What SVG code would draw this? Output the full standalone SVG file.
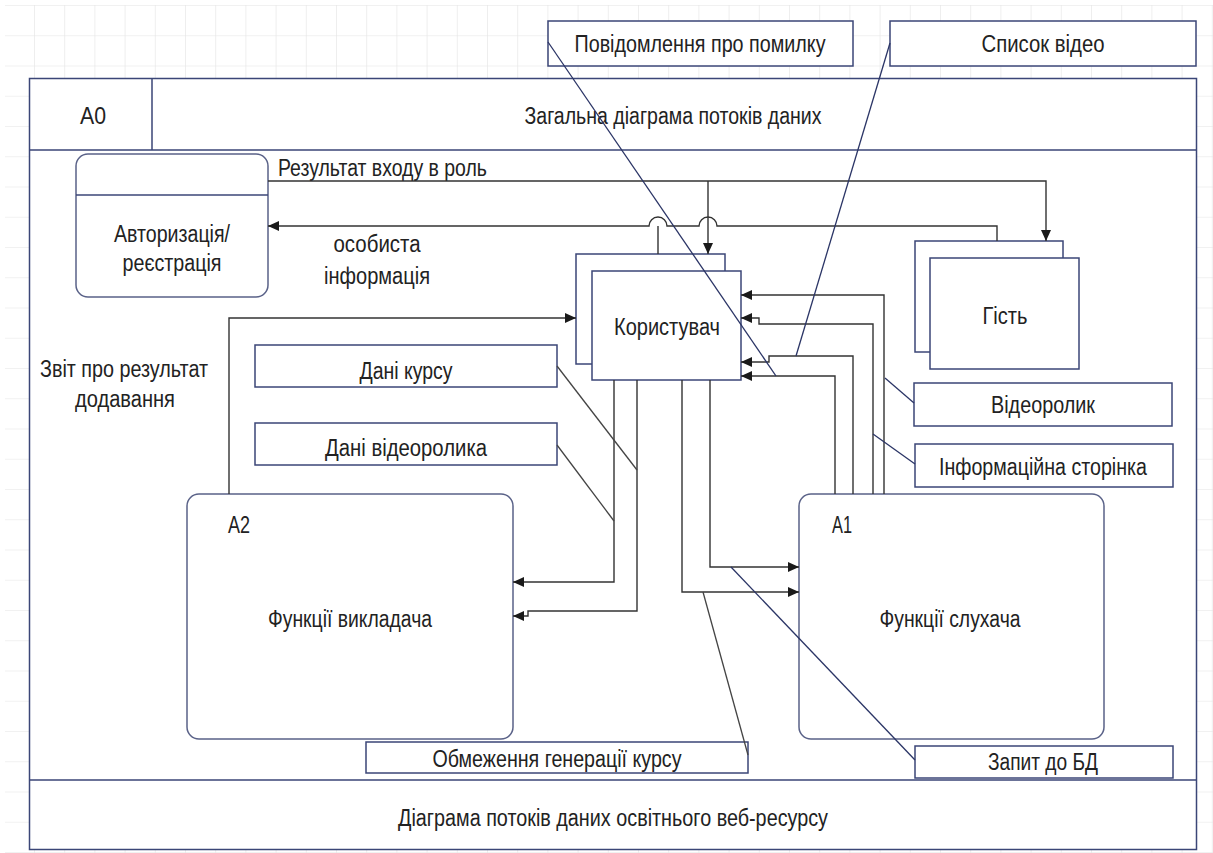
<svg xmlns="http://www.w3.org/2000/svg" width="1213" height="853" viewBox="0 0 1213 853">
  <defs>
    <pattern id="grid" patternUnits="userSpaceOnUse" x="34" y="5" width="30.2" height="30.25">
      <path d="M0,0 V30.25 M0,0 H30.2" fill="none" stroke="#e4e4e4" stroke-width="1.2"/>
    </pattern>
    <marker id="arr" markerUnits="userSpaceOnUse" markerWidth="11" markerHeight="10" refX="11" refY="5" orient="auto">
      <path d="M0,0 L11,5 L0,10 z" fill="#1a1a1a"/>
    </marker>
    <style>
      .frame { fill: #ffffff; stroke: #3b4677; stroke-width: 1.5; }
      .sep { fill: none; stroke: #3b4677; stroke-width: 1.5; }
      .lbl { fill: #ffffff; stroke: #3b4677; stroke-width: 1.5; }
      .node { fill: #ffffff; stroke: #3b4677; stroke-width: 1.5; }
      .rnode { fill: #ffffff; stroke: #5a6288; stroke-width: 1.5; }
      .flow { fill: none; stroke: #333333; stroke-width: 1.4; }
      .arrow { marker-end: url(#arr); }
      .call { fill: none; stroke: #2b3566; stroke-width: 1.3; }
      .callg { fill: none; stroke: #444444; stroke-width: 1.3; }
      text { font-family: "Liberation Sans Narrow", "Liberation Sans", Arial, sans-serif; font-size: 23.5px; fill: #222222; text-anchor: middle; }
      .left { text-anchor: start; }
    </style>
  </defs>

  <!-- drawing-sheet grid -->
  <rect x="5" y="5" width="1208" height="848" fill="#ffffff"/>
  <rect x="5" y="5" width="1208" height="848" fill="url(#grid)"/>

  <!-- diagram frame with header and footer -->
  <g id="frame">
    <rect class="frame" x="29.5" y="78.5" width="1167" height="771"/>
    <path class="sep" d="M29.5,150 H1196.5 M152,78.5 V150 M29.5,780 H1196.5"/>
    <text x="93" y="124" textLength="26" lengthAdjust="spacingAndGlyphs">A0</text>
    <text x="673" y="124" textLength="297" lengthAdjust="spacingAndGlyphs">Загальна діаграма потоків даних</text>
    <text x="613" y="826" textLength="430" lengthAdjust="spacingAndGlyphs">Діаграма потоків даних освітнього веб-ресурсу</text>
  </g>

  <!-- flow labels -->
  <g id="label-error">
    <rect class="lbl" x="548" y="21" width="305" height="45"/>
    <text x="700" y="52" textLength="251" lengthAdjust="spacingAndGlyphs">Повідомлення про помилку</text>
  </g>
  <g id="label-videolist">
    <rect class="lbl" x="890" y="21" width="306" height="45"/>
    <text x="1043" y="52" textLength="123" lengthAdjust="spacingAndGlyphs">Список відео</text>
  </g>
  <g id="label-role">
    <text class="left" x="278" y="176" textLength="209" lengthAdjust="spacingAndGlyphs">Результат входу в роль</text>
  </g>
  <g id="label-personal">
    <text x="377" y="252" textLength="87" lengthAdjust="spacingAndGlyphs">особиста</text>
    <text x="377" y="284" textLength="106" lengthAdjust="spacingAndGlyphs">інформація</text>
  </g>
  <g id="label-report">
    <text x="124" y="377" textLength="168" lengthAdjust="spacingAndGlyphs">Звіт про результат</text>
    <text x="125" y="407" textLength="100" lengthAdjust="spacingAndGlyphs">додавання</text>
  </g>
  <g id="label-course">
    <rect class="lbl" x="255" y="345" width="302" height="42"/>
    <text x="406" y="379" textLength="93" lengthAdjust="spacingAndGlyphs">Дані курсу</text>
  </g>
  <g id="label-videodata">
    <rect class="lbl" x="255" y="423" width="302" height="42"/>
    <text x="406" y="456" textLength="162" lengthAdjust="spacingAndGlyphs">Дані відеоролика</text>
  </g>
  <g id="label-video">
    <rect class="lbl" x="914" y="383" width="258" height="43"/>
    <text x="1043" y="413" textLength="104" lengthAdjust="spacingAndGlyphs">Відеоролик</text>
  </g>
  <g id="label-infopage">
    <rect class="lbl" x="915" y="444" width="258" height="43"/>
    <text x="1043" y="475" textLength="208" lengthAdjust="spacingAndGlyphs">Інформаційна сторінка</text>
  </g>
  <g id="label-limit">
    <rect class="lbl" x="366" y="742" width="382" height="31"/>
    <text x="557" y="767" textLength="249" lengthAdjust="spacingAndGlyphs">Обмеження генерації курсу</text>
  </g>
  <g id="label-dbquery">
    <rect class="lbl" x="915" y="746" width="258" height="32"/>
    <text x="1043" y="770" textLength="110" lengthAdjust="spacingAndGlyphs">Запит до БД</text>
  </g>

  <!-- nodes -->
  <g id="node-auth">
    <rect class="rnode" x="76" y="154" width="192" height="143" rx="12"/>
    <path class="sep" d="M76,195 H268" stroke="#5a6288"/>
    <text x="172" y="242" textLength="116" lengthAdjust="spacingAndGlyphs">Авторизація/</text>
    <text x="172" y="271" textLength="99" lengthAdjust="spacingAndGlyphs">реєстрація</text>
  </g>
  <g id="node-user">
    <rect class="node" x="576" y="254" width="149" height="110"/>
    <rect class="node" x="592" y="271" width="149" height="109"/>
    <text x="667" y="335" textLength="106" lengthAdjust="spacingAndGlyphs">Користувач</text>
  </g>
  <g id="node-guest">
    <rect class="node" x="915" y="241" width="148" height="111"/>
    <rect class="node" x="930" y="258" width="149" height="111"/>
    <text x="1005" y="324" textLength="45" lengthAdjust="spacingAndGlyphs">Гість</text>
  </g>
  <g id="node-a2">
    <rect class="rnode" x="187" y="494" width="326" height="245" rx="12"/>
    <text x="239" y="533" textLength="22" lengthAdjust="spacingAndGlyphs">A2</text>
    <text x="350" y="627" textLength="164" lengthAdjust="spacingAndGlyphs">Функції викладача</text>
  </g>
  <g id="node-a1">
    <rect class="rnode" x="799" y="494" width="305" height="245" rx="12"/>
    <text x="842" y="533" textLength="20" lengthAdjust="spacingAndGlyphs">A1</text>
    <text x="950" y="627" textLength="141" lengthAdjust="spacingAndGlyphs">Функції слухача</text>
  </g>

  <!-- connectors -->
  <g id="connectors">
    <!-- role login result -->
    <path class="flow arrow" d="M268,181 H1046 V241"/>
    <path class="flow arrow" d="M708,181 V254"/>
    <!-- personal information back to authorization -->
    <path class="flow arrow" d="M997,241 V226 H717 A9,9 0 0 0 699,226 H667 A9,9 0 0 0 649,226 H268"/>
    <path class="flow" d="M658,226 V254"/>
    <!-- report on adding result -->
    <path class="flow arrow" d="M229,494 V318 H576"/>
    <!-- A1 outputs into user -->
    <path class="flow arrow" d="M884,494 V295 H741"/>
    <path class="flow arrow" d="M873,494 V324 H759 V318 H741"/>
    <path class="flow arrow" d="M853,494 V356 H769 V362 H741"/>
    <path class="flow arrow" d="M835,494 V376 H741"/>
    <!-- user inputs into A2 -->
    <path class="flow arrow" d="M614,380 V582 H513"/>
    <path class="flow arrow" d="M637,380 V611 H528 V616 H513"/>
    <!-- user inputs into A1 -->
    <path class="flow arrow" d="M710,380 V567 H799"/>
    <path class="flow arrow" d="M682,380 V592 H799"/>
    <!-- label callout lines -->
    <path class="call" d="M548,42 L776,376"/>
    <path class="call" d="M890,43 L796,356"/>
    <path class="call" d="M885,378 L914,403"/>
    <path class="call" d="M873,434 L915,464"/>
    <path class="callg" d="M557,366 L637,470"/>
    <path class="callg" d="M557,445 L614,521"/>
    <path class="callg" d="M703,592 L748,755"/>
    <path class="call" d="M731,567 L915,760"/>
  </g>
</svg>
